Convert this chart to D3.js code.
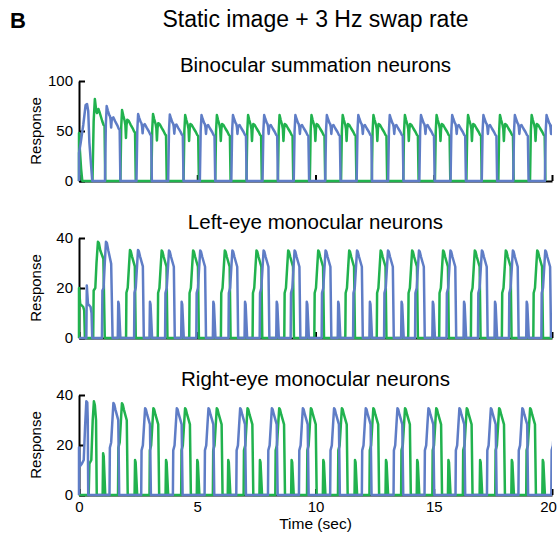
<!DOCTYPE html>
<html>
<head>
<meta charset="utf-8">
<script src="https://cdn.jsdelivr.net/npm/d3@7"></script>
<style>
  body { margin: 0; background: #fff; }
  text { font-family: "Liberation Sans", Arial, Helvetica, sans-serif; fill: #000; }
</style>
</head>
<body>
<svg id="chart"></svg>
<script>
// ---- data (time in sec, response) ----
var xTicks = [0, 5, 10, 15, 20];
var binoTicks = [0, 50, 100];
var monoTicks = [0, 20, 40];

// binocular summation: one "on" phase of the steady cycle
var topShapeT      = [0, 0.035, 0.07, 0.12, 0.18, 0.21, 0.235, 0.26, 0.29, 0.35, 0.43, 0.52, 0.58, 0.62, 0.65];
var topGreenShapeV = [0, 50, 66, 61, 56, 52, 40, 52, 57, 56, 52.5, 49, 46, 45, 0];
var topBlueShapeV  = [0, 50, 66, 62, 58, 57, 54, 47, 55, 56, 52.5, 49, 46, 45, 0];

var topGreenStart = [[0, 0], [0, 48], [0.04, 30], [0.09, 12], [0.14, 0],
  [0.57, 0], [0.62, 60], [0.67, 82], [0.73, 70], [0.76, 68], [0.82, 72], [0.88, 68], [0.98, 60], [1.04, 56], [1.08, 55], [1.11, 0]];
var topGreenOnsets = [1.75, 3.06, 4.42, 5.76, 7.08, 8.41, 9.76, 11.08, 12.38, 13.71, 15.05, 16.38, 17.73, 19.07];
var topGreenPeaks  = [71, 67, 66, 66, 66, 66, 66, 66, 66, 66, 66, 66, 66, 66];

var topBlueStart = [[0, 0], [0, 28], [0.07, 38], [0.18, 56], [0.28, 76], [0.34, 77], [0.39, 70], [0.44, 38], [0.49, 22], [0.56, 0]];
var topBlueOnsets = [1.10, 2.43, 3.77, 5.11, 6.44, 7.76, 9.08, 10.41, 11.74, 13.07, 14.39, 15.71, 17.03, 18.36, 19.70];
var topBluePeaks  = [75, 67, 66.5, 66, 66, 66, 66, 66, 66, 66, 66, 66, 66, 66, 66];

// monocular neurons: big pulse and small spike
var monoShapeT  = [0, 0.015, 0.07, 0.12, 0.165, 0.2, 0.25, 0.37, 0.41];
var monoShapeV  = [0, 18, 20, 28, 35, 34.5, 32.5, 28.5, 0];
var spikeShapeT = [0, 0.02, 0.045, 0.11];
var spikeShapeV = [0, 14.5, 13.5, 0];

// left-eye
var midGreenStart = [[0, 0], [0, 20], [0.05, 13.7], [0.18, 12.4], [0.22, 11], [0.25, 0],
  [0.60, 0], [0.62, 19], [0.69, 20], [0.74, 30], [0.80, 38.5], [0.84, 38], [0.90, 35], [1.03, 31.7], [1.09, 0]];
var midGreenOnsets = [1.99, 3.33, 4.66, 6.00, 7.34, 8.68, 9.95, 11.26, 12.59, 13.92, 15.23, 16.57, 17.88, 19.21];
var midGreenPeaks  = [35.2, 35, 35, 35, 35, 35, 35, 35, 35, 35, 35, 35, 35, 35];
var midGreenEnd = [[19.96, 0], [19.99, 10]];

var midBlueStart = [[0, 0], [0.31, 0], [0.33, 21], [0.38, 13.7], [0.49, 12.4], [0.53, 10], [0.56, 0],
  [0.97, 0], [0.99, 19], [1.04, 20], [1.09, 30], [1.14, 38.5], [1.18, 38], [1.24, 35], [1.36, 29.7], [1.42, 0]];
var midBlueOnsets = [2.33, 3.64, 4.96, 6.32, 7.64, 8.95, 10.26, 11.59, 12.90, 14.21, 15.54, 16.87, 18.18, 19.55];
var midBluePeaks  = [35.2, 35, 35, 35, 35, 35, 35, 35, 35, 35, 35, 35, 35, 35];
var midSpikeOnsets = [1.64, 2.98, 4.32, 5.66, 7.00, 8.34, 9.61, 10.94, 12.28, 13.62, 14.94, 16.26, 17.57, 18.91];
var midSpikePeaks  = [14.5, 14.5, 14.5, 14.5, 14.5, 14.5, 14.5, 14.5, 14.5, 14.5, 14.5, 14.5, 14.5, 14.5];

// right-eye
var botBlueStart = [[0, 0], [0, 19], [0.04, 11.5], [0.12, 12.5], [0.2, 14], [0.26, 28], [0.31, 37.5], [0.35, 37], [0.37, 30], [0.39, 0]];
var botBlueOnsets = [1.29, 2.63, 3.97, 5.31, 6.65, 7.99, 9.30, 10.62, 11.96, 13.30, 14.61, 15.92, 17.25, 18.58, 19.97];
var botBluePeaks  = [36.8, 34.7, 34.7, 34.7, 34.7, 34.7, 34.7, 34.7, 34.7, 34.7, 34.7, 34.7, 34.7, 34.7, 34.7];

var botGreenStart = [[0, 0], [0.41, 0], [0.44, 12.5], [0.52, 14], [0.58, 30], [0.63, 37.5], [0.67, 36], [0.72, 30], [0.75, 0]];
var botGreenOnsets = [1.65, 2.98, 4.32, 5.66, 6.96, 8.30, 9.64, 10.95, 12.28, 13.62, 14.94, 16.23, 17.60, 18.91];
var botGreenPeaks  = [36.7, 34.7, 34.7, 34.7, 34.7, 34.7, 34.7, 34.7, 34.7, 34.7, 34.7, 34.7, 34.7, 34.7];
var botSpikeOnsets = [1.00, 2.35, 3.66, 4.98, 6.29, 7.63, 8.97, 10.31, 11.65, 12.96, 14.28, 15.60, 16.94, 18.28, 19.59];
var botSpikePeaks  = [16.7, 14, 14, 14, 14, 14, 14, 14, 14, 14, 14, 14, 14, 14, 14];

var green = "#21b24e";
var blue = "#5f7dc6";

// ---- helpers ----
var pulses = function (onsets, peaks, shapeT, shapeV) {
    var shapePeak = d3.max(shapeV);
    return onsets.map(function (t0, i) {
        return shapeT.map(function (dt, j) { return [t0 + dt, shapeV[j] * peaks[i] / shapePeak]; });
    });
};

var series = function (start, lists, end) {
    var all = [].concat.apply([], lists);
    all.sort(function (a, b) { return a[0][0] - b[0][0]; });
    return start.concat([].concat.apply([], all), end || []);
};

var panels = [
    { title: "Binocular summation neurons", top: 81, bottom: 181, yMax: 100, yTicks: binoTicks, labels: false,
      green: series(topGreenStart, [pulses(topGreenOnsets, topGreenPeaks, topShapeT, topGreenShapeV)]),
      blue: series(topBlueStart, [pulses(topBlueOnsets, topBluePeaks, topShapeT, topBlueShapeV)]) },
    { title: "Left-eye monocular neurons", top: 238, bottom: 338, yMax: 40, yTicks: monoTicks, labels: false,
      green: series(midGreenStart, [pulses(midGreenOnsets, midGreenPeaks, monoShapeT, monoShapeV)], midGreenEnd),
      blue: series(midBlueStart, [pulses(midBlueOnsets, midBluePeaks, monoShapeT, monoShapeV),
                                  pulses(midSpikeOnsets, midSpikePeaks, spikeShapeT, spikeShapeV)]) },
    { title: "Right-eye monocular neurons", top: 395, bottom: 495, yMax: 40, yTicks: monoTicks, labels: true,
      green: series(botGreenStart, [pulses(botGreenOnsets, botGreenPeaks, monoShapeT, monoShapeV),
                                    pulses(botSpikeOnsets, botSpikePeaks, spikeShapeT, spikeShapeV)]),
      blue: series(botBlueStart, [pulses(botBlueOnsets, botBluePeaks, monoShapeT, monoShapeV)]) }
];

// ---- drawing ----
var svg = d3.select("#chart").attr("width", 559).attr("height", 538);
var x = d3.scaleLinear().domain([0, 20]).range([79, 552]);

svg.append("text").attr("x", 10).attr("y", 28)
    .style("font-size", "22px").style("font-weight", "bold").text("B");
svg.append("text").attr("x", 315.5).attr("y", 27).attr("text-anchor", "middle")
    .style("font-size", "23px").text("Static image + 3 Hz swap rate");

panels.forEach(function (p, k) {
    var y = d3.scaleLinear().domain([0, p.yMax]).range([p.bottom, p.top]);
    var g = svg.append("g");

    g.append("text").attr("x", 315.5).attr("y", p.top - 9).attr("text-anchor", "middle")
        .style("font-size", "20.5px").text(p.title);

    var xAxis = d3.axisBottom(x).tickValues(xTicks).tickSizeInner(-6).tickSizeOuter(0).tickPadding(6);
    if (!p.labels) xAxis.tickFormat("");
    var gx = g.append("g").attr("transform", "translate(0," + p.bottom + ")").call(xAxis);

    var gy = g.append("g").attr("transform", "translate(" + x(0) + ",0)")
        .call(d3.axisLeft(y).tickValues(p.yTicks).tickSizeInner(-6).tickSizeOuter(0).tickPadding(6));

    [gx, gy].forEach(function (a) {
        a.select(".domain").attr("stroke", "#000").attr("stroke-width", 2);
        a.selectAll(".tick line").attr("stroke", "#000").attr("stroke-width", 2);
        a.selectAll(".tick text").style("font-size", "15px")
            .style("font-family", "'Liberation Sans', Arial, sans-serif").attr("fill", "#000");
    });
    // last x label sits against the page edge
    gx.selectAll(".tick text").filter(function (d) { return d === 20; }).attr("dx", -4);

    g.append("text").attr("transform", "translate(41," + (p.top + p.bottom) / 2 + ") rotate(-90)")
        .attr("text-anchor", "middle").style("font-size", "15px").text("Response");

    svg.append("clipPath").attr("id", "clip" + k).append("rect")
        .attr("x", x(0) - 3).attr("y", p.top - 15)
        .attr("width", x(20) - x(0) + 3).attr("height", p.bottom - p.top + 25);

    var line = d3.line().x(function (d) { return x(d[0]); }).y(function (d) { return y(d[1]); });

    g.append("path").datum(p.green)
        .attr("clip-path", "url(#clip" + k + ")")
        .attr("d", line).attr("fill", "none").attr("stroke", green)
        .attr("stroke-width", 2.5).attr("stroke-linejoin", "round");
    g.append("path").datum(p.blue)
        .attr("clip-path", "url(#clip" + k + ")")
        .attr("d", line).attr("fill", "none").attr("stroke", blue)
        .attr("stroke-width", 2.5).attr("stroke-linejoin", "round");
});

svg.append("text").attr("x", 315.5).attr("y", 529).attr("text-anchor", "middle")
    .style("font-size", "15.5px").text("Time (sec)");
</script>
</body>
</html>
